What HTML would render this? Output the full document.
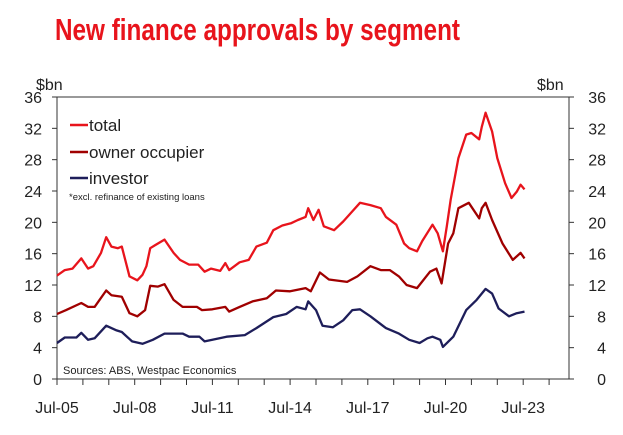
<!DOCTYPE html>
<html><head><meta charset="utf-8"><style>
body{margin:0;background:#fff;width:623px;height:430px;overflow:hidden;font-family:"Liberation Sans",sans-serif}
</style></head><body>
<svg width="623" height="430" xmlns="http://www.w3.org/2000/svg">
<text x="55" y="40" fill="#e8141c" font-family="'Liberation Sans Narrow','Liberation Sans',sans-serif" font-weight="bold" font-size="31" textLength="405" lengthAdjust="spacingAndGlyphs">New finance approvals by segment</text>
<g id="axes"></g>
<g id="series"></g>
<g font-size="17" fill="#222">
<line x1="70" y1="125" x2="88" y2="125" stroke="#e8141c" stroke-width="2.5"/><text x="89" y="131">total</text>
<line x1="70" y1="152" x2="88" y2="152" stroke="#a00000" stroke-width="2.5"/><text x="89" y="158">owner occupier</text>
<line x1="70" y1="178" x2="88" y2="178" stroke="#1e1e5a" stroke-width="2.5"/><text x="89" y="184">investor</text>
<text x="69" y="200" font-size="9.5">*excl. refinance of existing loans</text>
</g>
<text x="63" y="374" font-size="11" fill="#222">Sources: ABS, Westpac Economics</text>
<text x="36" y="90" font-size="16" fill="#222">$bn</text>
<text x="537" y="90" font-size="16" fill="#222">$bn</text>
</svg>
<script>
const yTicks=[0,4,8,12,16,20,24,28,32,36];
const xTickLabels=["Jul-05","Jul-08","Jul-11","Jul-14","Jul-17","Jul-20","Jul-23"];
const totalYears=[0,0.3,0.6,0.94,1.2,1.4,1.7,1.9,2.1,2.35,2.5,2.8,3.1,3.3,3.45,3.6,3.8,4.15,4.5,4.75,5.1,5.45,5.7,5.95,6.3,6.5,6.65,7.05,7.4,7.7,8.1,8.35,8.7,9.05,9.3,9.6,9.7,9.9,10.1,10.3,10.7,11.05,11.4,11.7,12.1,12.5,12.7,13.1,13.4,13.6,13.9,14.1,14.5,14.7,14.9,15.05,15.2,15.5,15.8,16.0,16.3,16.4,16.55,16.8,17.0,17.3,17.55,17.75,17.9,18.05];
const totalVals=[13.2,13.9,14.1,15.4,14.1,14.4,16.1,18.1,16.9,16.7,16.9,13.1,12.6,13.3,14.4,16.7,17.1,17.8,16.1,15.2,14.6,14.6,13.7,14.1,13.8,14.8,13.9,14.9,15.2,16.9,17.4,19.0,19.6,19.9,20.3,20.7,21.8,20.3,21.6,19.5,19.0,20.1,21.4,22.5,22.2,21.8,20.7,19.7,17.3,16.7,16.3,17.6,19.7,18.6,16.3,19.5,22.9,28.2,31.2,31.4,30.6,32.2,34.0,31.6,28.2,25.0,23.1,23.9,24.8,24.2];
const ownerYears=[0,0.35,0.94,1.2,1.45,1.9,2.1,2.5,2.8,3.1,3.4,3.6,3.9,4.15,4.5,4.85,5.4,5.6,6.0,6.5,6.65,7.05,7.55,8.1,8.45,9.0,9.6,9.8,10.15,10.5,11.2,11.6,12.1,12.5,12.85,13.2,13.5,13.9,14.4,14.65,14.85,15.1,15.3,15.5,15.9,16.3,16.4,16.55,16.8,17.2,17.6,17.9,18.05];
const ownerVals=[8.3,8.8,9.7,9.2,9.2,11.3,10.7,10.5,8.4,8.0,8.8,11.9,11.8,12.1,10.1,9.2,9.2,8.8,8.9,9.2,8.6,9.2,9.9,10.3,11.3,11.2,11.6,11.2,13.6,12.7,12.4,13.1,14.4,13.9,13.9,13.1,12.0,11.6,13.7,14.1,12.2,17.3,18.6,21.8,22.5,20.5,21.8,22.5,20.3,17.3,15.2,16.1,15.4];
const investorYears=[0,0.3,0.75,0.94,1.2,1.45,1.9,2.3,2.5,2.9,3.3,3.7,4.15,4.85,5.1,5.5,5.7,6.0,6.55,7.25,7.7,8.35,8.85,9.25,9.6,9.7,10.0,10.25,10.65,11.05,11.4,11.7,12.1,12.7,13.2,13.6,14.0,14.3,14.5,14.8,14.9,15.3,15.8,16.2,16.55,16.8,17.05,17.45,17.75,18.05];
const investorVals=[4.6,5.3,5.3,5.9,5.0,5.2,6.8,6.2,6.0,4.8,4.5,5.0,5.8,5.8,5.4,5.4,4.8,5.0,5.4,5.6,6.5,7.9,8.3,9.2,8.9,9.9,8.8,6.8,6.6,7.5,8.8,8.9,8.0,6.5,5.8,5.0,4.6,5.2,5.4,5.0,4.1,5.4,8.8,10.1,11.5,10.9,9.0,8.0,8.4,8.6];
const NS="http://www.w3.org/2000/svg";
const L=57,R=569,T=97,B=379,YMAX=36,PXY=25.9;
const xs=t=>L+t*PXY, ys=v=>B-(v/YMAX)*(B-T);
function mk(tag,at,parent){const e=document.createElementNS(NS,tag);for(const k in at)e.setAttribute(k,at[k]);parent.appendChild(e);return e;}
const ax=document.getElementById('axes');
const frame=mk('rect',{x:L,y:T,width:R-L,height:B-T,fill:'none',stroke:'#333','stroke-width':1},ax);


yTicks.forEach(v=>{
  const y=ys(v);
  mk('line',{x1:L-5,y1:y,x2:L,y2:y,stroke:'#333'},ax);
  mk('line',{x1:R,y1:y,x2:R+5,y2:y,stroke:'#333'},ax);
  const a=mk('text',{x:L-15,y:y+6,'text-anchor':'end','font-size':16,fill:'#222'},ax);a.textContent=v;
  
  
  const b=mk('text',{x:R+37,y:y+6,'text-anchor':'end','font-size':16,fill:'#222'},ax);b.textContent=v;
  
  
});
for(let i=0;i<=19;i++){const x=xs(i);mk('line',{x1:x,y1:B,x2:x,y2:B+6,stroke:'#333'},ax);}
xTickLabels.forEach((s,i)=>{
  const t=mk('text',{x:xs(i*3),y:413,'text-anchor':'middle','font-size':16,fill:'#222'},ax);t.textContent=s;
  
  
});
const sg=document.getElementById('series');
function line(years,vals,color,name){
  const d=years.map((t,i)=>(i?'L':'M')+xs(t).toFixed(1)+','+ys(vals[i]).toFixed(1)).join('');
  const p=mk('path',{d:d,fill:'none',stroke:color,'stroke-width':2.3,'stroke-linejoin':'round'},sg);
  
  
}
line(totalYears,totalVals,'#e8141c','total-line');
line(ownerYears,ownerVals,'#a00000','owner-occupier-line');
line(investorYears,investorVals,'#1e1e5a','investor-line');
</script>
</body></html>
